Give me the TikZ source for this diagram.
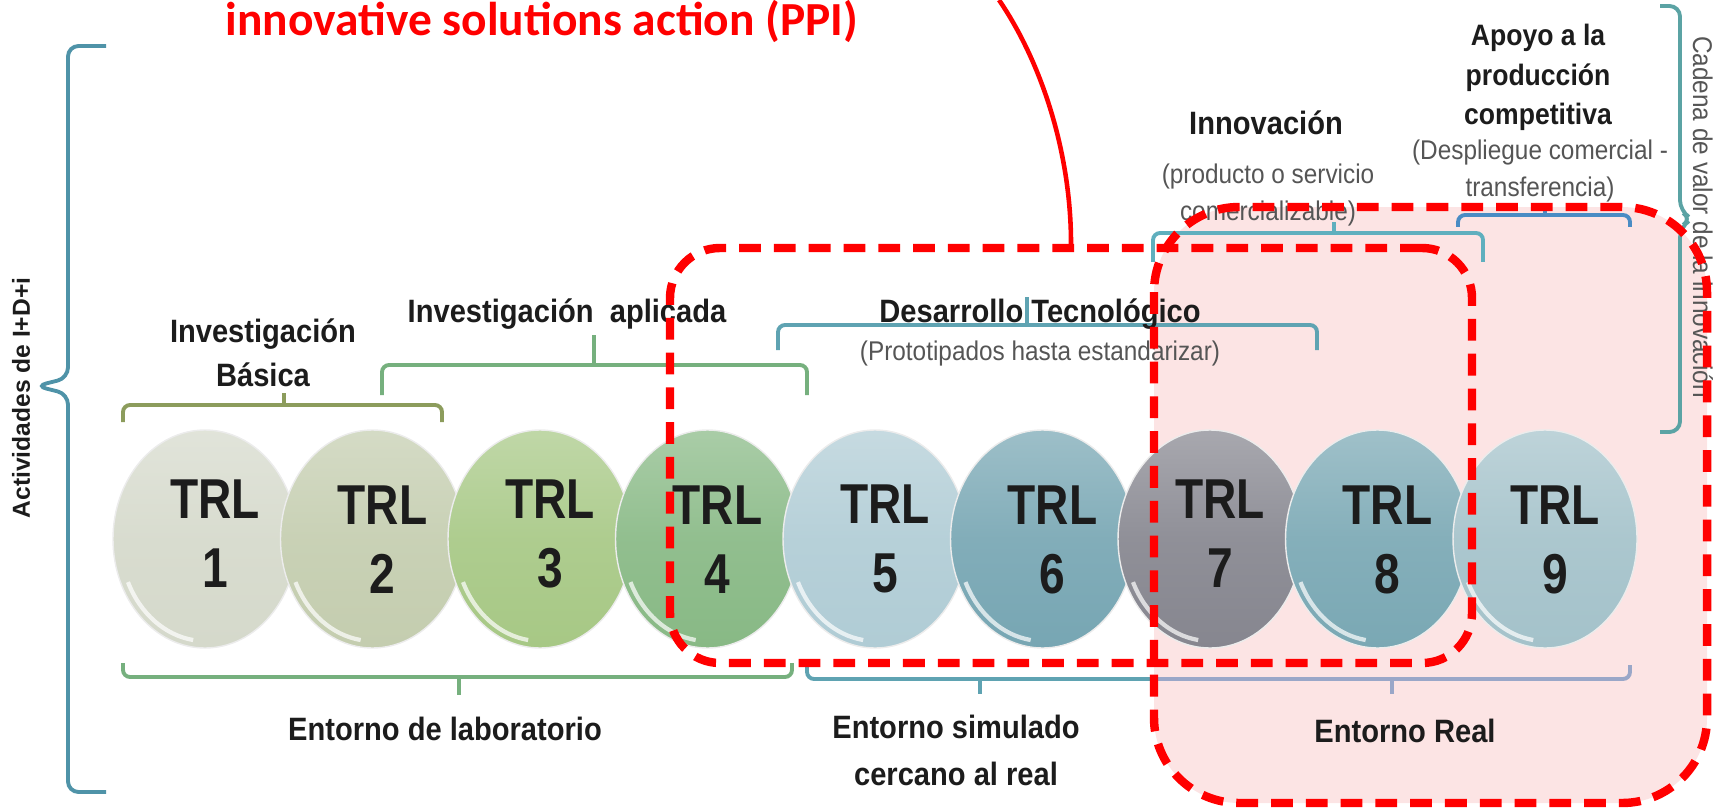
\documentclass[tikz,border=0pt]{standalone}
\usepackage{fontspec}
\setmainfont{Liberation Sans}
\newfontfamily\labelfont[FakeStretch=0.9]{Liberation Sans}
\newfontfamily\trlfont[FakeStretch=0.82]{Liberation Sans}
\newfontfamily\titlefont{Carlito}
\usetikzlibrary{shapes.geometric, positioning}

\definecolor{pptred}{HTML}{FF0000}
\definecolor{zonepink}{HTML}{FCE4E4}
\definecolor{ink}{HTML}{1C1C1C}
\definecolor{trlA}{HTML}{D5D9CB}
\definecolor{trlB}{HTML}{C4CDAF}
\definecolor{trlC}{HTML}{A7C885}
\definecolor{trlD}{HTML}{88B985}
\definecolor{trlE}{HTML}{B0CCD5}
\definecolor{trlF}{HTML}{77A6B3}
\definecolor{trlG}{HTML}{86868F}
\definecolor{trlH}{HTML}{7AA8B4}
\definecolor{trlI}{HTML}{A4C2CA}
\definecolor{olivebrk}{HTML}{8C9C5C}
\definecolor{greenbrk}{HTML}{76B07E}
\definecolor{tealbrk}{HTML}{5FA3B2}
\definecolor{cyanbrk}{HTML}{5FAFBE}
\definecolor{bluebrk}{HTML}{4A8CC4}
\definecolor{actbrk}{HTML}{4F93A8}
\definecolor{chainbrk}{HTML}{5BA3A4}
\definecolor{realbrk}{HTML}{9AA7C8}

\tikzset{%
  trl/.style={ellipse, inner sep=0, minimum width=18.4mm, minimum height=21.8mm,
    draw=white!85!gray, line width=0.4pt,
    top color=#1!72!white, bottom color=#1, middle color=#1!92!white},
  rim/.style={white, line width=1.2pt, opacity=0.7},
  trltext/.style={font=\trlfont\bfseries\fontsize{16}{19.6}\selectfont,
    align=center, text=ink, inner sep=0, anchor=base},
  lbl/.style={font=\labelfont\bfseries\fontsize{9.2}{12.5}\selectfont,
    align=center, text=ink, inner sep=0, anchor=base},
  sublbl/.style={font=\labelfont\fontsize{7.7}{10.8}\selectfont,
    align=center, text=ink!75, inner sep=0, anchor=base},
  brk/.style={line width=1.1pt, rounded corners=2pt},
  dashbox/.style={draw=pptred, line width=2.4pt, dash pattern=on 6.2pt off 3.7pt,
    rounded corners=#1},
  ppiline/.style={draw=pptred, line width=1.3pt}
}

\begin{document}
\begin{tikzpicture}[x=0.1mm, y=-0.1mm]
  \useasboundingbox (0,0) rectangle (1717,808);

  % pink zone (fill only, outline drawn last)
  \node[fill=zonepink, rounded corners=8.5mm, inner sep=0, outer sep=0,
    minimum width=55.3mm, minimum height=59.6mm] (realzone) at (1430.5,505) {};

  % TRL circles
  \foreach \k/\col/\ty in {1/trlA/587, 2/trlB/593, 3/trlC/587, 4/trlD/593,
      5/trlE/592, 6/trlF/593, 7/trlG/587, 8/trlH/593, 9/trlI/593} {
    \pgfmathsetmacro\cx{205+167.5*(\k-1)}
    \node[trl=\col] (c\k) at (\cx,539) {};
    \draw[rim] ([shift={(c\k.center)}]205:8.5mm and 10.2mm)
      arc[start angle=205, end angle=262, x radius=8.5mm, y radius=10.2mm];
    \node[trltext] (t\k) at (\cx+10,\ty) {TRL\\\k};
  }

  % side braces
  \draw[brk, actbrk, rounded corners=3pt] (106,46) -- (68,46) -- (68,378) -- (36,386)
    -- (68,394) -- (68,792) -- (106,792);
  \node[lbl, font=\bfseries\fontsize{7}{8}\selectfont, anchor=center, rotate=90]
    (lact) at (21,398) {Actividades de I+D+i};
  \draw[brk, chainbrk, rounded corners=3pt] (1660,6) -- (1680,6) -- (1680,211)
    -- (1692,219) -- (1680,227) -- (1680,432) -- (1660,432);
  \node[sublbl, anchor=center, rotate=-90] (lchain) at (1703,217)
    {Cadena de valor de la innovación};

  % upper brackets
  \draw[brk, olivebrk] (123,422) -- (123,405) -- (442,405) -- (442,422);
  \draw[brk, olivebrk] (284,405) -- (284,393);
  \draw[brk, greenbrk] (382,395) -- (382,365) -- (807,365) -- (807,395);
  \draw[brk, greenbrk] (594,365) -- (594,335);
  \draw[brk, tealbrk] (778,350) -- (778,325) -- (1317,325) -- (1317,350);
  \draw[brk, tealbrk] (1027,325) -- (1027,297);
  \draw[brk, cyanbrk] (1153,262) -- (1153,233) -- (1483,233) -- (1483,262);
  \draw[brk, cyanbrk] (1334,233) -- (1334,222);
  \draw[brk, bluebrk] (1458,227) -- (1458,215) -- (1630,215) -- (1630,227);
  \draw[brk, bluebrk] (1545,215) -- (1545,206);

  % lower brackets
  \draw[brk, greenbrk] (123,663) -- (123,677) -- (792,677) -- (792,663);
  \draw[brk, greenbrk] (459,677) -- (459,695);
  \draw[brk, tealbrk] (807,665) -- (807,679) -- (1154,679);
  \draw[brk, tealbrk] (980,679) -- (980,694);
  \draw[brk, realbrk] (1154,679) -- (1630,679) -- (1630,665);
  \draw[brk, realbrk] (1392,679) -- (1392,694);

  % stage labels (anchored at the baseline of their last line)
  \node[lbl] (lbasic) at (263,386) {Investigación\\Básica};
  \node[lbl] (lapplied) at (567,322) {Investigación~~aplicada};
  \node[lbl] (ldev) at (1040,323) {Desarrollo Tecnológico};
  \node[sublbl] (ldevsub) at (1040,360) {(Prototipados hasta estandarizar)};
  \node[lbl] (linnov) at (1266,135) {Innovación};
  \node[sublbl] (linnovsub) at (1268,221) {(producto o servicio\\comercializable)};
  \node[lbl, font=\labelfont\bfseries\fontsize{8.4}{11.3}\selectfont]
    (lsupport) at (1538,125) {Apoyo a la\\producción\\competitiva};
  \node[sublbl] (lsupportsub) at (1540,197) {(Despliegue comercial -\\transferencia)};
  \node[lbl] (llab) at (445,740) {Entorno de laboratorio};
  \node[lbl, font=\labelfont\bfseries\fontsize{9.2}{13.3}\selectfont]
    (lsim) at (956,785) {Entorno simulado\\cercano al real};
  \node[lbl] (lreal) at (1405,742) {Entorno Real};

  % highlighted zones
  \draw[dashbox=8.5mm] (realzone.north west) rectangle (realzone.south east);
  \node[dashbox=5mm, inner sep=0, minimum width=80.2mm, minimum height=41.5mm]
    (ppi) at (1071,455.5) {};

  % title and pointer
  \node[font=\titlefont\bfseries\fontsize{13.5}{15}\selectfont, text=pptred,
    inner sep=0, anchor=base] (title) at (542,36) {innovative solutions action (PPI)};
  \coordinate (curvetop) at (999,0);
  \draw[ppiline] (curvetop) .. controls (1040,60) and (1071,150) .. (ppi.north);

\end{tikzpicture}
\end{document}
